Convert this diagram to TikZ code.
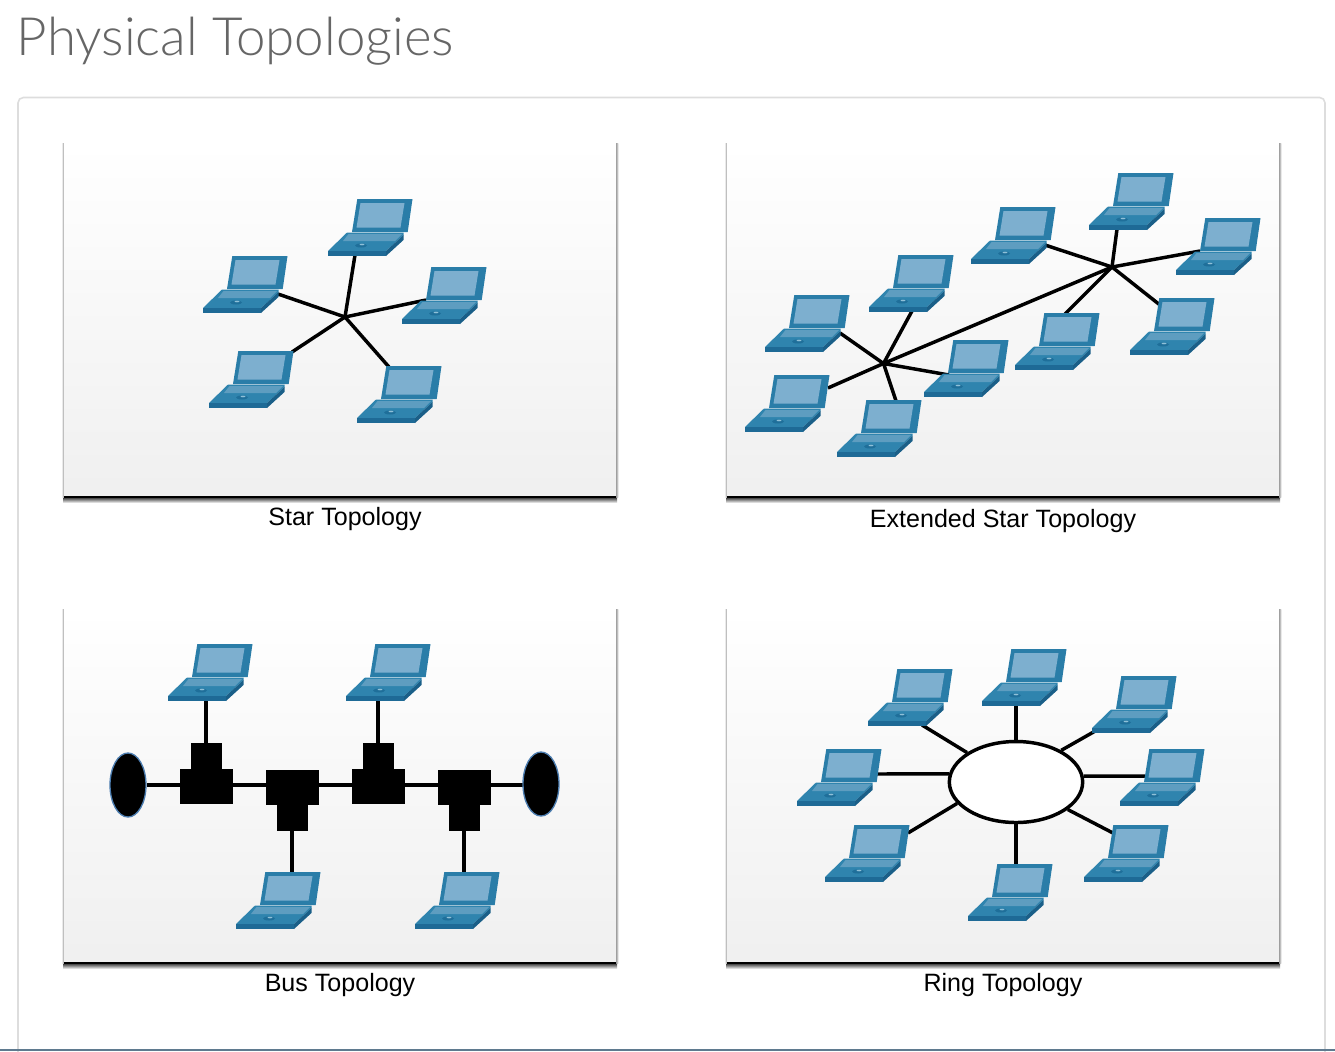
\documentclass[tikz,border=0pt]{standalone}
\usepackage{fontspec}
\setmainfont{Liberation Sans}
\newfontfamily\titlefont{Lato Light}
\usetikzlibrary{positioning,shapes.geometric}
\pgfdeclarelayer{panels}
\pgfdeclarelayer{wires}
\pgfsetlayers{panels,wires,main}
\definecolor{lapframe}{HTML}{2A7DA8}
\definecolor{lapscreen}{HTML}{7DAFCF}
\definecolor{lapkeys}{HTML}{5E9DC0}
\definecolor{lapdeck}{HTML}{2F84AE}
\definecolor{lapfront}{HTML}{1E6A96}
\definecolor{lapside}{HTML}{1A5F88}
\definecolor{lappad}{HTML}{1F6F9A}
\definecolor{lapspot}{HTML}{8FC0D8}
\definecolor{titlegray}{HTML}{666666}
\definecolor{boxgray}{HTML}{DDDDDD}
\definecolor{footline}{HTML}{5F7A8F}
\definecolor{capblue}{HTML}{4C7DB0}
\tikzset{
    wire/.style={line width=2.6pt},
    panellabel/.style={anchor=base,inner sep=0pt,font=\fontsize{18.8}{22}\selectfont},
    tbase/.style={fill=black,inner sep=0pt,outer sep=0pt,minimum width=39.75pt,minimum height=26.25pt},
    tstem/.style={fill=black,inner sep=0pt,outer sep=0pt,minimum width=23.25pt,minimum height=19.5pt},
    buscap/.style={ellipse,fill=black,draw=capblue,line width=1pt,inner sep=0pt,minimum width=27pt,minimum height=48pt},
    laptop/.pic={
        \coordinate (-o) at (0,0);
        \fill[lapframe] (29.3,0) -- (84.5,0) -- (79.7,33) -- (24,33) -- cycle;
        \fill[lapscreen] (32.5,4) -- (76.5,4) -- (72.5,28.5) -- (28.5,28.5) -- cycle;
        \fill[lapdeck] (19,33.5) -- (75.5,33.5) -- (75.5,36) -- (58,52) -- (0,52) -- cycle;
        \fill[lapkeys] (20.5,35) -- (74,35) -- (67,42) -- (15,42) -- cycle;
        \fill[lapfront] (0,52) -- (58,52) -- (58,57) -- (0,57) -- cycle;
        \fill[lapside] (58,52) -- (75.5,36) -- (75.5,41) -- (58,57) -- cycle;
        \fill[lappad] (33,46.5) ellipse (6 and 2);
        \fill[lapspot] (34,45.5) ellipse (2.5 and 0.8);
    },
    toppanel/.pic={
        \shade[left color=white,right color=black!42] (-2.5,0) rectangle (0,354);
        \shade[right color=white,left color=black!42] (552,0) rectangle (554.5,354);
        \shade[top color=black!70,bottom color=white] (-1,355) rectangle (553,360);
        \shade[top color=white,bottom color=black!6] (0,0) rectangle (552,353);
        \fill[black] (0,352.5) rectangle (552,355);
    },
}
\begin{document}
\begin{tikzpicture}[x=0.75pt,y=-0.75pt]
    \useasboundingbox (0,0) rectangle (1335,1051);
    \node[anchor=base west,inner sep=0pt,text=titlegray,font=\titlefont\fontsize{39.6}{46}\selectfont] (title) at (16.5,55) {Physical Topologies};
    \begin{pgfonlayer}{panels}
        \draw[boxgray,line width=1.2pt,rounded corners=4pt] (18,1060) -- (18,97.5) -- (1325,97.5) -- (1325,1060);
        \fill[footline] (0,1049) rectangle (1335,1051);
    \end{pgfonlayer}
    % Star
    \begin{scope}[shift={(64,143)}]
        \begin{pgfonlayer}{panels}
            \pic {toppanel};
        \end{pgfonlayer}
        \node[panellabel] (starlabel) at (281,382) {Star Topology};
        \coordinate (starhub) at (281,174);
        \pic (s1) at (264,56) {laptop};
        \pic (s2) at (139,113) {laptop};
        \pic (s3) at (338,124) {laptop};
        \pic (s4) at (145,208) {laptop};
        \pic (s5) at (293,223) {laptop};
        \begin{pgfonlayer}{wires}
            \draw[wire] (starhub) -- ([shift={(27,56)}]s1-o);
            \draw[wire] (starhub) -- ([shift={(75,38)}]s2-o);
            \draw[wire] (starhub) -- ([shift={(24,33)}]s3-o);
            \draw[wire] (starhub) -- ([shift={(83,1)}]s4-o);
            \draw[wire] (starhub) -- ([shift={(32,1)}]s5-o);
        \end{pgfonlayer}
    \end{scope}
    % Extended star
    \begin{scope}[shift={(727,143)}]
        \begin{pgfonlayer}{panels}
            \pic {toppanel};
        \end{pgfonlayer}
        \node[panellabel] (extlabel) at (276,384) {Extended Star Topology};
        \coordinate (exthuba) at (156.5,220.5);
        \coordinate (exthubb) at (385,124);
        \pic (e1) at (38,152) {laptop};
        \pic (e2) at (142,112) {laptop};
        \pic (e3) at (18,232) {laptop};
        \pic (e4) at (110,257) {laptop};
        \pic (e5) at (197,197) {laptop};
        \pic (e6) at (244,64) {laptop};
        \pic (e7) at (362,30) {laptop};
        \pic (e8) at (449,75) {laptop};
        \pic (e9) at (403,155) {laptop};
        \pic (e10) at (288,170) {laptop};
        \begin{pgfonlayer}{wires}
            \draw[wire] (exthuba) -- (exthubb);
            \draw[wire] (exthuba) -- ([shift={(75,38)}]e1-o);
            \draw[wire] (exthuba) -- ([shift={(43,56)}]e2-o);
            \draw[wire] (exthuba) -- ([shift={(83,13)}]e3-o);
            \draw[wire] (exthuba) -- ([shift={(59,1)}]e4-o);
            \draw[wire] (exthuba) -- ([shift={(25,35)}]e5-o);
            \draw[wire] (exthubb) -- ([shift={(74,38)}]e6-o);
            \draw[wire] (exthubb) -- ([shift={(28,56)}]e7-o);
            \draw[wire] (exthubb) -- ([shift={(24,33)}]e8-o);
            \draw[wire] (exthubb) -- ([shift={(30,7)}]e9-o);
            \draw[wire] (exthubb) -- ([shift={(50,1)}]e10-o);
        \end{pgfonlayer}
    \end{scope}
    % Bus
    \begin{scope}[shift={(64,609)}]
        \begin{pgfonlayer}{panels}
            \pic {toppanel};
        \end{pgfonlayer}
        \node[panellabel] (buslabel) at (276,382) {Bus Topology};
        \node[buscap] (capl) at (64,176) {};
        \node[buscap] (capr) at (477,175) {};
        \node[tbase] (t1) at (142,177.5) {};
        \node[tbase] (t2) at (228,178) {};
        \node[tbase] (t3) at (314,177.5) {};
        \node[tbase] (t4) at (400,178) {};
        \node[tstem,above=0pt of t1] (t1s) {};
        \node[tstem,below=0pt of t2] (t2s) {};
        \node[tstem,above=0pt of t3] (t3s) {};
        \node[tstem,below=0pt of t4] (t4s) {};
        \pic (b1) at (104,35) {laptop};
        \pic (b2) at (282,35) {laptop};
        \pic (b3) at (172,263) {laptop};
        \pic (b4) at (351,263) {laptop};
        \begin{pgfonlayer}{wires}
            \draw[wire] (capl) -- (capr |- capl);
            \draw[wire] (t1s) -- ([shift={(38,56)}]b1-o);
            \draw[wire] (t3s) -- ([shift={(32,56)}]b2-o);
            \draw[wire] (t2s) -- ([shift={(56,1)}]b3-o);
            \draw[wire] (t4s) -- ([shift={(49,1)}]b4-o);
        \end{pgfonlayer}
    \end{scope}
    % Ring
    \begin{scope}[shift={(727,609)}]
        \begin{pgfonlayer}{panels}
            \pic {toppanel};
        \end{pgfonlayer}
        \node[panellabel] (ringlabel) at (276,382) {Ring Topology};
        \node[ellipse,fill=white,draw=black,wire,inner sep=0pt,minimum width=100pt,minimum height=60.75pt] (ring) at (289,173) {};
        \pic (r1) at (141,60) {laptop};
        \pic (r2) at (255,40) {laptop};
        \pic (r3) at (365,67) {laptop};
        \pic (r4) at (70,140) {laptop};
        \pic (r5) at (393,140) {laptop};
        \pic (r6) at (98,216) {laptop};
        \pic (r7) at (357,216) {laptop};
        \pic (r8) at (241,255) {laptop};
        \begin{pgfonlayer}{wires}
            \draw[wire] (ring.149) -- ([shift={(54,56)}]r1-o);
            \draw[wire] (ring.north) -- ([shift={(34,56)}]r2-o);
            \draw[wire] (ring.35) -- ([shift={(5,54)}]r3-o);
            \draw[wire] (ring.173) -- ([shift={(80,25)}]r4-o);
            \draw[wire] (ring.5) -- ([shift={(25,27)}]r5-o);
            \draw[wire] (ring.200) -- ([shift={(83,8)}]r6-o);
            \draw[wire] (ring.332) -- ([shift={(29,8)}]r7-o);
            \draw[wire] (ring.south) -- ([shift={(48,1)}]r8-o);
        \end{pgfonlayer}
    \end{scope}
\end{tikzpicture}
\end{document}
